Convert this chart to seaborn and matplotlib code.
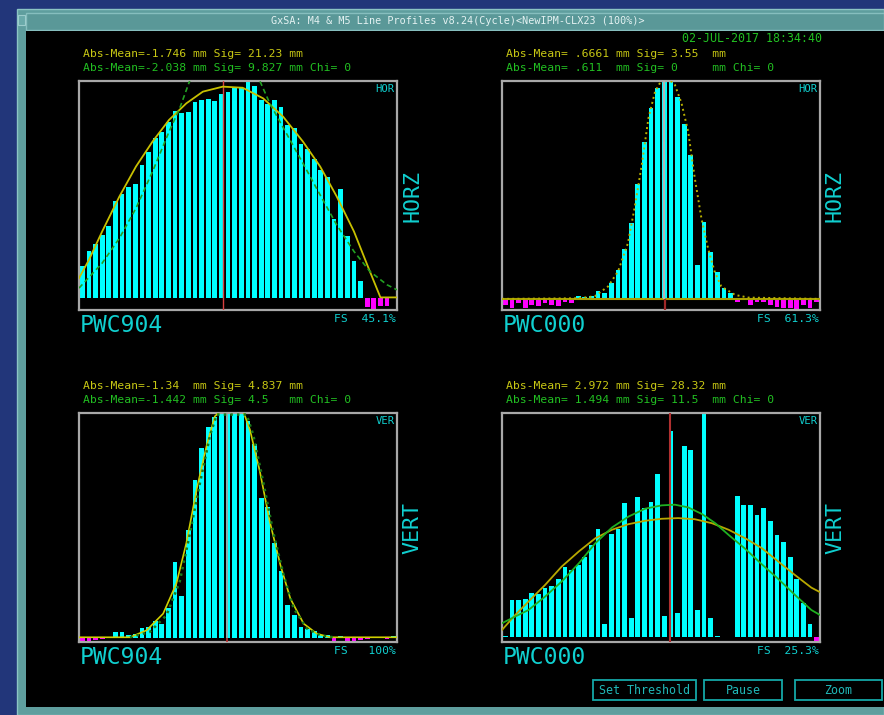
import numpy as np
import pandas as pd
import matplotlib
matplotlib.use('Agg')
import matplotlib.pyplot as plt
from matplotlib.patches import Rectangle
import seaborn as sns

# --- profile data (48 bins per wire, % of full scale, negative = magenta) ---
bins = list(range(48))

hor904 = [14.6, 21.9, 24.7, 29.0, 33.0, 44.6, 48.0, 51.0, 52.6, 61.2,
          67.2, 73.6, 76.4, 81.0, 86.2, 85.3, 85.9, 90.2, 91.4, 91.9,
          90.6, 93.9, 94.8, 96.6, 96.9, 99.7, 97.5, 91.1, 89.3, 91.4,
          88.0, 79.8, 78.2, 71.2, 68.7, 64.1, 59.2, 55.8, 36.5, 50.3,
          28.8, 16.9, 7.7, -4.3, -5.4, -3.8, -3.8, 0.0]
hor000 = [-2.8, -4.3, -2.1, -4.3, -2.8, -3.1, -2.1, -2.8, -3.1, -1.2,
          -2.1, 1.1, 0.9, 1.5, 3.4, 2.8, 7.3, 13.3, 22.9, 35.0,
          52.6, 71.9, 87.5, 96.6, 99.7, 99.7, 92.8, 80.1, 66.0, 15.6,
          35.5, 21.4, 12.5, 5.2, 2.6, -1.2, -0.6, -2.8, -1.2, -1.5,
          -2.8, -3.7, -4.0, -4.0, -5.2, -2.8, -4.0, -1.5]
ver904 = [-1.2, -1.2, -1.0, -0.3, 0.0, 2.7, 2.7, 1.5, 1.9, 4.5,
          4.9, 7.4, 6.4, 13.1, 33.9, 18.7, 48.0, 70.1, 84.4, 93.6,
          98.1, 100, 100, 100, 100, 96.3, 86.2, 62.1, 58.0, 42.0,
          29.7, 14.6, 10.4, 4.9, 4.2, 3.0, 1.5, 1.2, -1.8, 0.7,
          -1.8, -1.2, -1.0, -0.5, 0.0, 0.0, -0.5, 0.9]
ver000 = [0.4, 16.4, 16.4, 16.9, 19.4, 19.1, 21.6, 22.8, 25.8, 31.3,
          29.9, 32.1, 35.4, 41.0, 48.2, 5.5, 45.8, 48.2, 59.7, 8.5,
          62.4, 57.5, 60.1, 72.8, 9.3, 91.8, 10.4, 85.1, 83.6, 11.9,
          100, 8.2, 0.4, 0.0, 0.0, 63.0, 59.0, 59.0, 54.5, 57.5,
          51.8, 45.5, 42.5, 35.8, 25.8, 15.2, 5.5, -2.2]

# --- fitted curves (x in bins, y in %) ---
hor904_yel_x = [-0.5, 1.0, 3.0, 5.6, 8.1, 10.6, 13.1, 15.7, 18.2, 21.2, 24.2, 27.3, 30.3, 33.3, 35.9, 38.4, 41.0, 43.4, 45.0, 47.5]
hor904_yel_y = [9.2, 17.6, 30.7, 46.8, 60.6, 72.1, 82.1, 89.7, 95.1, 97.4, 96.9, 92.0, 83.6, 72.1, 60.6, 46.8, 30.7, 12.3, 0.3, 0.3]
hor904_grn_x = [-0.5, 3.0, 5.6, 8.1, 10.6, 13.1, 14.7, 16.2, 18.2, 21.5, 24.8, 26.8, 28.3, 30.8, 33.3, 35.9, 38.4, 41.0, 43.4, 46.0, 47.5]
hor904_grn_y = [4.6, 16.1, 27.6, 41.4, 58.3, 76.7, 87.4, 100, 121, 133, 121, 100, 89.7, 75.9, 62.1, 47.5, 33.7, 21.5, 12.3, 6.1, 3.8]

hor000_yel_x = [-0.5, 11.0, 13.5, 15.5, 17.0, 18.5, 19.5, 20.6, 21.6, 22.6, 23.6, 24.6, 25.6, 26.6, 27.6, 28.6, 29.6, 30.6, 31.6, 32.6, 34.7, 36.7, 47.5]
hor000_yel_y = [0.0, 0.3, 1.2, 5.7, 12.5, 25.5, 41.6, 61.5, 82.9, 95.1, 100.5, 101, 98.2, 89.8, 76.8, 55.4, 37.0, 23.2, 12.5, 5.7, 1.8, 0.6, 0.0]

ver904_yel_x = [-0.5, 7.2, 9.7, 12.2, 14.2, 15.7, 17.3, 18.8, 20.0, 20.8, 24.3, 25.3, 26.8, 28.3, 29.9, 31.4, 33.4, 35.4, 37.4, 47.5]
ver904_yel_y = [0.3, 0.3, 3.4, 10.8, 24.2, 42.1, 66.6, 85.9, 98.5, 100.7, 100.7, 92.6, 74.0, 51.7, 32.4, 17.5, 6.4, 1.9, 0.3, 0.3]
ver904_grn_x = [7.2, 10.2, 12.7, 14.7, 16.2, 17.8, 19.3, 20.3, 24.8, 25.8, 27.3, 28.8, 30.4, 31.9, 33.9, 35.9, 37.9]
ver904_grn_y = [0.3, 2.7, 10.1, 25.0, 45.8, 69.5, 90.3, 99.3, 99.3, 90.3, 69.5, 47.3, 27.9, 13.1, 4.2, 1.2, 0.3]

ver000_yel_x = [-0.5, 1.5, 3.5, 6.0, 8.5, 11.1, 13.6, 16.1, 18.6, 21.1, 23.6, 26.1, 28.6, 31.2, 33.7, 36.2, 38.7, 41.2, 43.7, 46.2, 47.5]
ver000_yel_y = [3.0, 9.7, 15.7, 23.1, 31.3, 38.1, 44.0, 47.8, 50.3, 51.8, 52.7, 53.0, 52.5, 50.7, 47.8, 44.0, 39.6, 33.6, 27.6, 21.9, 19.9]
ver000_grn_x = [-0.5, 1.5, 3.5, 6.0, 8.5, 11.1, 13.6, 16.1, 18.6, 21.1, 23.6, 25.6, 27.6, 29.7, 31.7, 33.7, 36.2, 38.7, 41.2, 43.7, 46.2, 47.5]
ver000_grn_y = [6.0, 9.0, 11.9, 17.9, 24.6, 32.8, 41.8, 48.8, 53.7, 57.2, 58.7, 59.0, 57.8, 54.8, 50.7, 45.5, 39.3, 32.4, 25.8, 18.7, 11.9, 9.7]

stats = {
    'hor904': ["Abs-Mean=-1.746 mm Sig= 21.23 mm", "Abs-Mean=-2.038 mm Sig= 9.827 mm Chi= 0"],
    'hor000': ["Abs-Mean= .6661 mm Sig= 3.55  mm", "Abs-Mean= .611  mm Sig= 0     mm Chi= 0"],
    'ver904': ["Abs-Mean=-1.34  mm Sig= 4.837 mm", "Abs-Mean=-1.442 mm Sig= 4.5   mm Chi= 0"],
    'ver000': ["Abs-Mean= 2.972 mm Sig= 28.32 mm", "Abs-Mean= 1.494 mm Sig= 11.5  mm Chi= 0"],
}
full_scale = {'hor904': '45.1%', 'hor000': '61.3%', 'ver904': '100%', 'ver000': '25.3%'}

CYAN = '#00ffff'
MAGENTA = '#ff00ff'
TXT = '#10d0d0'
YEL = '#c8c814'
GRN = '#22c022'
MONO = 'DejaVu Sans Mono'

W, H = 884, 715
fig = plt.figure(figsize=(W / 100, H / 100), dpi=100)
fig.patch.set_facecolor('#22367a')

# window frame drawn in pixel coordinates
bg = fig.add_axes([0, 0, 1, 1], zorder=0)
bg.set_xlim(0, W)
bg.set_ylim(H, 0)
bg.axis('off')
bg.add_patch(Rectangle((17, 9), W - 17, H - 9, fc='#5f9e9e', ec='#8cc4c4', lw=1))
bg.add_patch(Rectangle((26, 13), W - 26, 17, fc='#5a9898', ec='#86bebe', lw=1))
bg.add_patch(Rectangle((18, 15), 7, 10, fc='#6aaaaa', ec='#9ccccc', lw=0.8))
bg.add_patch(Rectangle((26, 31), W - 26, 676, fc='black', ec='none'))
bg.text(458, 21.5, "GxSA: M4 & M5 Line Profiles v8.24(Cycle)<NewIPM-CLX23 (100%)>",
        family=MONO, fontsize=7.3, color='#e4f2f2', ha='center', va='center')
bg.text(822, 38, "02-JUL-2017 18:34:40", family=MONO, fontsize=8.4,
        color=GRN, ha='right', va='center')

# buttons
for label, x0, x1 in [("Set Threshold", 593, 696), ("Pause", 704, 782), ("Zoom", 795, 882)]:
    bg.add_patch(Rectangle((x0, 680), x1 - x0, 20, fc='none', ec='#14a8a8', lw=1.3))
    bg.text((x0 + x1) / 2, 690, label, family=MONO, fontsize=8.4,
            color='#20b8b8', ha='center', va='center')

panels = [
    # key, box (x0, top, x1, bottom) in px, ylim bottom, side label, box tag, wire
    ('hor904', (79, 81, 397, 310), -5.5, 'HORZ', 'HOR', 'PWC904'),
    ('hor000', (502, 81, 820, 310), -5.1, 'HORZ', 'HOR', 'PWC000'),
    ('ver904', (79, 413, 397, 642), -1.8, 'VERT', 'VER', 'PWC904'),
    ('ver000', (502, 413, 820, 642), -2.4, 'VERT', 'VER', 'PWC000'),
]
values = {'hor904': hor904, 'hor000': hor000, 'ver904': ver904, 'ver000': ver000}

axes = {}
for key, (x0, y0, x1, y1), ylo, side, tag, wire in panels:
    ax = fig.add_axes([x0 / W, 1 - y1 / H, (x1 - x0) / W, (y1 - y0) / H], zorder=2)
    ax.set_facecolor('black')
    df = pd.DataFrame({'bin': bins, 'value': values[key]})
    df['kind'] = np.where(df['value'] < 0, 'neg', 'pos')
    sns.barplot(data=df, x='bin', y='value', hue='kind',
                palette={'pos': CYAN, 'neg': MAGENTA}, native_scale=True,
                dodge=False, width=0.7, saturation=1, linewidth=0,
                legend=False, ax=ax)
    ax.set_xlim(-0.5, 47.5)
    ax.set_ylim(ylo, 100)
    ax.set_xticks([])
    ax.set_yticks([])
    ax.set_xlabel('')
    ax.set_ylabel('')
    for s in ax.spines.values():
        s.set_color('#a8a8a8')
        s.set_linewidth(1.6)
    ax.text(0.993, 0.985, tag, transform=ax.transAxes, family=MONO,
            fontsize=7.6, color=TXT, ha='right', va='top')
    # stats above the box
    bg.text(x0 + 4, y0 - 27, stats[key][0], family=MONO, fontsize=8.2,
            color=YEL, ha='left', va='center')
    bg.text(x0 + 4, y0 - 13, stats[key][1], family=MONO, fontsize=8.2,
            color=GRN, ha='left', va='center')
    # labels under / beside the box
    bg.text(x0 + 1, y1 + 16, wire, family=MONO, fontsize=16.6,
            color=TXT, ha='left', va='center')
    pad = '  ' if len(full_scale[key]) == 5 else '   '
    bg.text(x1 - 1, y1 + 9, 'FS' + pad + full_scale[key], family=MONO,
            fontsize=8.2, color=TXT, ha='right', va='center')
    bg.text(x1 + 15, (y0 + y1) / 2 + 1, side, family=MONO, fontsize=15.6,
            color=TXT, ha='center', va='center', rotation=90)
    axes[key] = ax

# fitted curves and mean markers
ax = axes['hor904']
ax.axvline(21.2, color='#d84040', lw=1, zorder=3)
sns.lineplot(x=hor904_yel_x, y=hor904_yel_y, ax=ax, color='#c8c000', lw=1.3,
             estimator=None, sort=False, zorder=4)
sns.lineplot(x=hor904_grn_x, y=hor904_grn_y, ax=ax, color='#22a022', lw=1.2,
             linestyle=(0, (3, 2)), estimator=None, sort=False, zorder=4)

ax = axes['hor000']
ax.axhline(0, color='#a8a000', lw=1.5, zorder=3)
ax.vlines(24.0, 0, 100, color='#b4b4b4', lw=1.6, zorder=3)
ax.vlines(24.1, -5.1, 0, color='#a02828', lw=1.6, zorder=3)
sns.lineplot(x=hor000_yel_x, y=hor000_yel_y, ax=ax, color='#b8b000', lw=1.4,
             linestyle=':', estimator=None, sort=False, zorder=4)

ax = axes['ver904']
ax.vlines(21.8, 0, 100, color='#a0a0a0', lw=1.2, zorder=3)
ax.vlines(21.8, -1.8, 0, color='#c03030', lw=1.2, zorder=3)
sns.lineplot(x=ver904_yel_x, y=ver904_yel_y, ax=ax, color='#d0d000', lw=1.2,
             estimator=None, sort=False, zorder=4)
sns.lineplot(x=ver904_grn_x, y=ver904_grn_y, ax=ax, color='#1a7a1a', lw=1.8,
             linestyle=':', estimator=None, sort=False, zorder=4)

ax = axes['ver000']
ax.axvline(24.9, color='#b03030', lw=1.5, zorder=3)
sns.lineplot(x=ver000_yel_x, y=ver000_yel_y, ax=ax, color='#b8a800', lw=1.3,
             estimator=None, sort=False, zorder=4)
sns.lineplot(x=ver000_grn_x, y=ver000_grn_y, ax=ax, color='#20b020', lw=1.3,
             estimator=None, sort=False, zorder=4)

fig.savefig('out.png', dpi=100, facecolor=fig.get_facecolor())
